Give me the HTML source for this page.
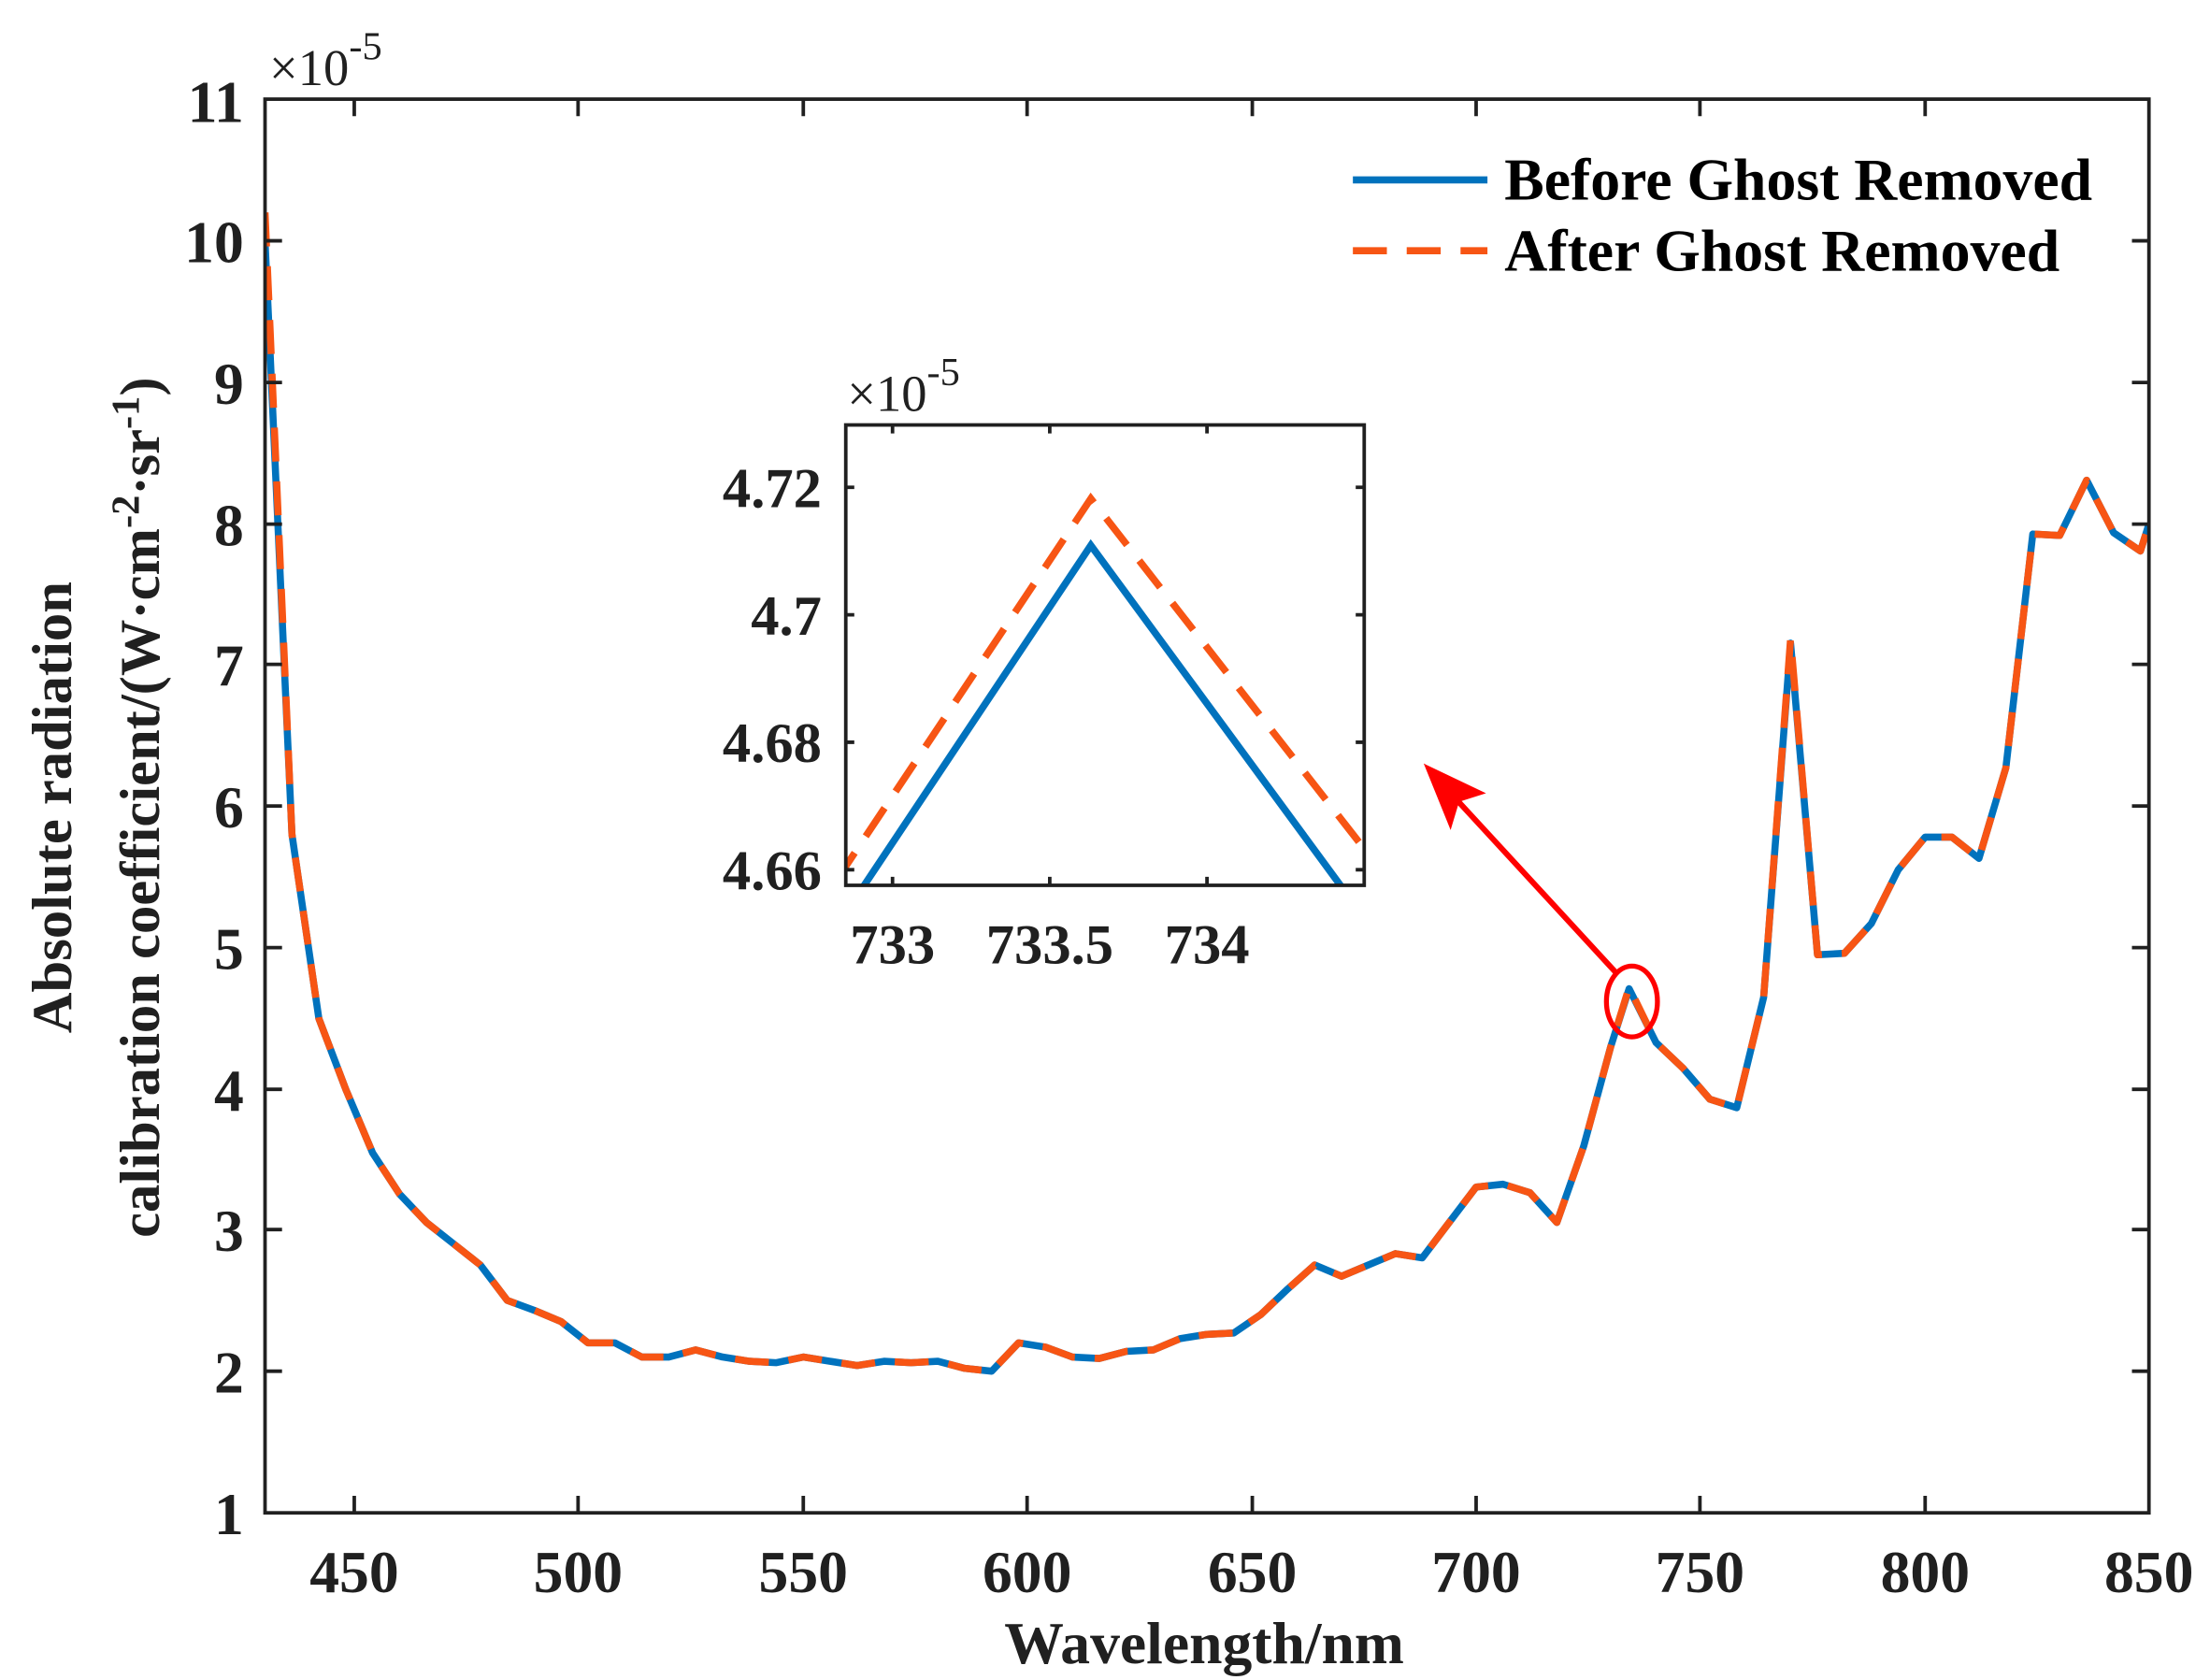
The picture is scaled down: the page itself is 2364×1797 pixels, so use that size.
<!DOCTYPE html>
<html><head><meta charset="utf-8"><style>html,body{margin:0;padding:0;background:#fff}svg{display:block}</style></head><body>
<svg xmlns="http://www.w3.org/2000/svg" width="2364" height="1797" viewBox="0 0 1560 1186" font-family="Liberation Serif, serif" font-weight="bold" fill="#202020">
<rect width="1560" height="1186" fill="#fff"/>
<defs><clipPath id="main"><rect x="187" y="70" width="1330" height="998"/></clipPath>
<clipPath id="ins"><rect x="597" y="300" width="366" height="325"/></clipPath></defs>
<g clip-path="url(#main)" fill="none" stroke-width="5" stroke-linejoin="round">
<polyline stroke="#0072BD" points="187,170 206,589 225,719 244,769 263,814 282,843 301,863 320,878 339,893 358,918 377,925 396,933 415,948 434,948 453,958 472,958 491,953 510,958 529,961 548,962 567,958 586,961 605,964 624,961 643,962 662,961 681,966 700,968 719,948 738,951 757,958 776,959 795,954 814,953 833,945 852,942 871,941 890,928 909,910 928,893 947,901 966,893 985,885 1004,888 1023,863 1042,838 1061,836 1080,842 1099,863 1118,809 1137,739 1150,698 1169,736 1188,754 1207,776 1226,782 1245,704 1264,454 1283,674 1302,673 1321,652 1340,614 1359,591 1378,591 1397,606 1416,542 1435,377 1454,378 1473,339 1492,376 1511,389 1517,370"/>
<polyline stroke="#F75514" stroke-dasharray="24,14" points="187,150 206,589 225,719 244,769 263,814 282,843 301,863 320,878 339,893 358,918 377,925 396,933 415,948 434,948 453,958 472,958 491,953 510,958 529,961 548,962 567,958 586,961 605,964 624,961 643,962 662,961 681,966 700,968 719,948 738,951 757,958 776,959 795,954 814,953 833,945 852,942 871,941 890,928 909,910 928,893 947,901 966,893 985,885 1004,888 1023,863 1042,838 1061,836 1080,842 1099,863 1118,809 1137,739 1150,697 1169,736 1188,754 1207,776 1226,782 1245,704 1264,451 1283,674 1302,673 1321,652 1340,614 1359,591 1378,591 1397,606 1416,542 1435,377 1454,378 1473,339 1492,376 1511,389 1517,370"/>
</g>
<g stroke="#202020" stroke-width="2.5" fill="none">
<rect x="187" y="70" width="1330" height="998"/>
<path d="M250,1068v-12M408,1068v-12M567,1068v-12M725,1068v-12M884,1068v-12M1042,1068v-12M1200,1068v-12M1359,1068v-12
M250,70v12M408,70v12M567,70v12M725,70v12M884,70v12M1042,70v12M1200,70v12M1359,70v12
M187,968h12M187,868h12M187,769h12M187,669h12M187,569h12M187,469h12M187,370h12M187,270h12M187,170h12
M1517,968h-12M1517,868h-12M1517,769h-12M1517,669h-12M1517,569h-12M1517,469h-12M1517,370h-12M1517,270h-12M1517,170h-12"/>
</g>
<g font-size="42" text-anchor="end">
<text x="172" y="1083">1</text><text x="172" y="983">2</text><text x="172" y="883">3</text><text x="172" y="784">4</text><text x="172" y="684">5</text><text x="172" y="584">6</text><text x="172" y="484">7</text><text x="172" y="385">8</text><text x="172" y="285">9</text><text x="172" y="185">10</text><text x="172" y="86">11</text>
</g>
<g font-size="42" text-anchor="middle">
<text x="250" y="1124">450</text><text x="408" y="1124">500</text><text x="567" y="1124">550</text><text x="725" y="1124">600</text><text x="884" y="1124">650</text><text x="1042" y="1124">700</text><text x="1200" y="1124">750</text><text x="1359" y="1124">800</text><text x="1517" y="1124">850</text>
</g>
<text x="190" y="60" font-size="36" font-weight="normal">×10<tspan dy="-18" font-size="28">-5</tspan></text>
<text x="850" y="1174" font-size="42" text-anchor="middle">Wavelength/nm</text>
<g font-size="40" text-anchor="middle">
<text transform="translate(50,570) rotate(-90)">Absolute radiation</text>
<text transform="translate(112,570) rotate(-90)">calibration coefficient/(W·cm<tspan dy="-14" font-size="28">-2</tspan><tspan dy="14">·sr</tspan><tspan dy="-14" font-size="28">-1</tspan><tspan dy="14">)</tspan></text>
</g>
<line x1="955" y1="127" x2="1050" y2="127" stroke="#0072BD" stroke-width="5"/>
<line x1="955" y1="177" x2="1050" y2="177" stroke="#F75514" stroke-width="5" stroke-dasharray="24,14"/>
<text x="1062" y="141" font-size="42" textLength="415" lengthAdjust="spacingAndGlyphs" fill="#000">Before Ghost Removed</text>
<text x="1062" y="191" font-size="42" textLength="392" lengthAdjust="spacingAndGlyphs" fill="#000">After Ghost Removed</text>
<ellipse cx="1152" cy="707" rx="18" ry="25" fill="none" stroke="#FF0000" stroke-width="3.5"/>
<line x1="1142" y1="688" x2="1025" y2="561" stroke="#FF0000" stroke-width="4"/>
<polygon points="1005,539 1049,560 1030,566 1024,586" fill="#FF0000"/>
<rect x="597" y="300" width="366" height="325" fill="#fff"/>
<g clip-path="url(#ins)" fill="none" stroke-width="5">
<polyline stroke="#0072BD" points="600,640 770,385 955,637"/>
<polyline stroke="#F75514" stroke-dasharray="24,14" points="590,622 770,352 973,612"/>
</g>
<g stroke="#202020" stroke-width="2.5" fill="none">
<rect x="597" y="300" width="366" height="325"/>
<path d="M630,625v-6M741,625v-6M852,625v-6M630,300v6M741,300v6M852,300v6M597,344h6M597,434h6M597,524h6M597,614h6M963,344h-6M963,434h-6M963,524h-6M963,614h-6"/>
</g>
<g font-size="40" text-anchor="end">
<text x="580" y="358">4.72</text><text x="580" y="448">4.7</text><text x="580" y="538">4.68</text><text x="580" y="628">4.66</text>
</g>
<g font-size="40" text-anchor="middle">
<text x="630" y="680">733</text><text x="741" y="680">733.5</text><text x="852" y="680">734</text>
</g>
<text x="598" y="290" font-size="36" font-weight="normal">×10<tspan dy="-18" font-size="28">-5</tspan></text>
</svg>
</body></html>
